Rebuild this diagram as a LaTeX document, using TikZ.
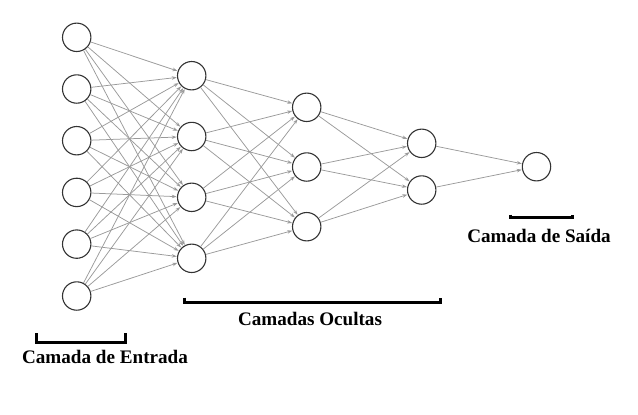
\documentclass[tikz,border=0pt]{standalone}
\usepackage{fontspec}
\setmainfont{Liberation Serif}
\usetikzlibrary{arrows.meta}
\definecolor{nodeline}{HTML}{333333}
\definecolor{edgecol}{HTML}{9A9A9A}
\tikzset{
  neuron/.style={circle, draw=nodeline, line width=1.1bp, fill=white, minimum size=28.4bp, inner sep=0pt},
  conn/.style={draw=edgecol, line width=0.75bp, -{Stealth[length=5bp,width=3.5bp]}, shorten >=0.3bp},
  bracketline/.style={draw=black, line width=3bp},
  lbl/.style={anchor=base, font=\fontsize{19.2}{21}\selectfont\bfseries, text=black, inner sep=0pt}
}
\begin{document}
\begin{tikzpicture}[x=1bp,y=-1bp]
\useasboundingbox (0,0) rectangle (638,414);
% input layer
\foreach \i/\y in {1/37.3,2/89,3/140.7,4/192.4,5/244.1,6/296}
  \node[neuron] (a\i) at (76.7,\y) {};
% hidden 1
\foreach \i/\y in {1/75.7,2/136.5,3/197.3,4/258.3}
  \node[neuron] (b\i) at (191.7,\y) {};
% hidden 2
\foreach \i/\y in {1/107.3,2/167,3/226.7}
  \node[neuron] (c\i) at (306.7,\y) {};
% hidden 3
\foreach \i/\y in {1/143.3,2/190}
  \node[neuron] (d\i) at (421.7,\y) {};
% output
\node[neuron] (e1) at (536.5,166.7) {};
% connections
\foreach \i in {1,...,6}
  \foreach \j in {1,...,4}
    \draw[conn] (a\i) -- (b\j);
\foreach \i in {1,...,4}
  \foreach \j in {1,...,3}
    \draw[conn] (b\i) -- (c\j);
\foreach \i in {1,...,3}
  \foreach \j in {1,2}
    \draw[conn] (c\i) -- (d\j);
\foreach \i in {1,2}
  \draw[conn] (d\i) -- (e1);
% brackets
\coordinate (inA) at (36,333);
\coordinate (inB) at (36,342);
\coordinate (inC) at (125,342);
\coordinate (inD) at (125,333);
\draw[bracketline] (inA) -- (inB) -- (inC) -- (inD);
\coordinate (hA) at (184.5,297.5);
\coordinate (hB) at (184.5,302);
\coordinate (hC) at (440.5,302);
\coordinate (hD) at (440.5,297.5);
\draw[bracketline] (hA) -- (hB) -- (hC) -- (hD);
\coordinate (oA) at (510,214.5);
\coordinate (oB) at (510,217.5);
\coordinate (oC) at (572.5,217.5);
\coordinate (oD) at (572.5,214.5);
\draw[bracketline] (oA) -- (oB) -- (oC) -- (oD);
% labels
\node[lbl] (lin) at (105,363) {Camada de Entrada};
\node[lbl] (lhid) at (310,325) {Camadas Ocultas};
\node[lbl] (lout) at (539,242) {Camada de Saída};
\end{tikzpicture}
\end{document}
